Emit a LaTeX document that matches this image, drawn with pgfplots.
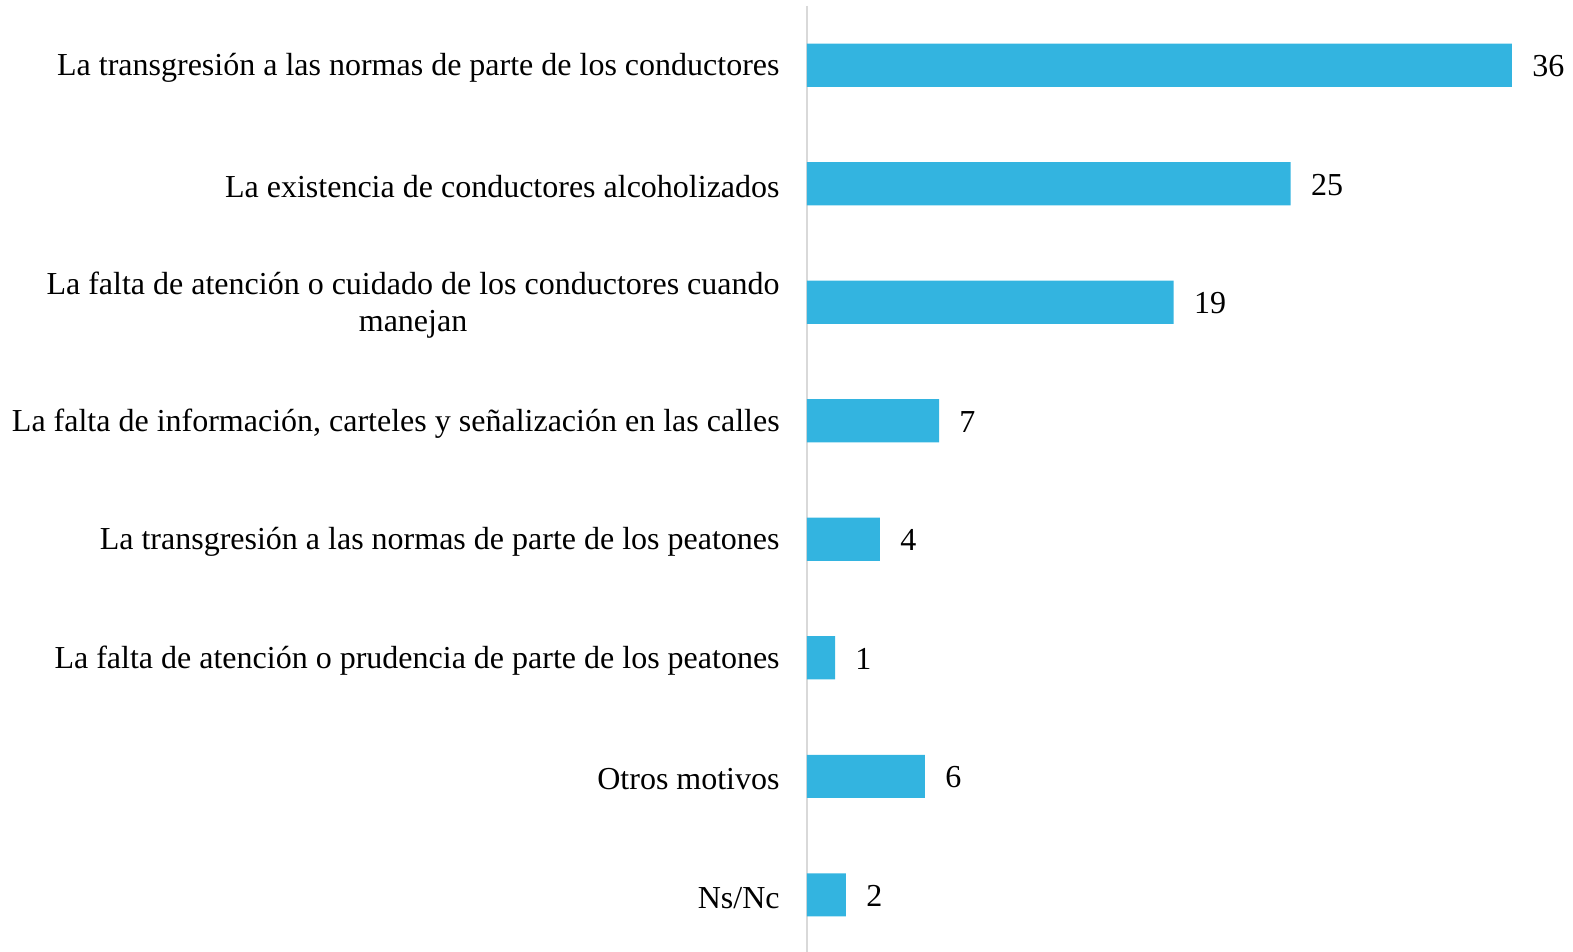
\documentclass[border=0pt]{standalone}
\usepackage{pgfplots}
\pgfplotsset{compat=1.18}
\usepackage{pgfplotstable}
\usepackage{fontspec}
\setmainfont{Liberation Serif}
\definecolor{barblue}{RGB}{51,180,224}
\definecolor{axisgray}{RGB}{217,217,217}
\pgfplotstableread{
y x lab
0 36.15 36
1 24.8 25
2 18.8 19
3 6.77 7
4 3.74 4
5 1.44 1
6 6.05 6
7 2.0 2
}\data
\begin{document}
\begin{tikzpicture}
\begin{axis}[
  name=ax,
  scale only axis,
  width=383pt, height=474pt,
  xmin=0, xmax=39.28,
  ymin=-0.5, ymax=7.5,
  y dir=reverse,
  axis x line=none,
  axis y line=left,
  y axis line style={draw=axisgray, line width=1.1pt, -},
  xtick=\empty,
  ytick=data,
  major tick length=0pt,
  yticklabels={
    La transgresión a las normas de parte de los conductores,
    La existencia de conductores alcoholizados,
    {La falta de atención o cuidado de los conductores cuando\\manejan},
    {La falta de información, carteles y señalización en las calles},
    La transgresión a las normas de parte de los peatones,
    La falta de atención o prudencia de parte de los peatones,
    Otros motivos,
    Ns/Nc},
  yticklabel style={font=\fontsize{16}{18.5}\selectfont, align=center, inner sep=0pt, xshift=-13.5pt, yshift=-1.5pt},
  clip=false,
]
\addplot[xbar, fill=barblue, draw=none, bar width=0.363,
  nodes near coords, point meta=explicit symbolic,
  nodes near coords style={anchor=west, inner sep=0pt, xshift=10pt, yshift=-0.5pt, font=\fontsize{16}{18.5}\selectfont, text=black}]
  table[x=x, y=y, meta=lab] {\data};
\end{axis}
\pgfresetboundingbox
\useasboundingbox ([xshift=-403.5pt,yshift=3pt]ax.north west) rectangle ([yshift=1pt]ax.south east);
\end{tikzpicture}
\end{document}
